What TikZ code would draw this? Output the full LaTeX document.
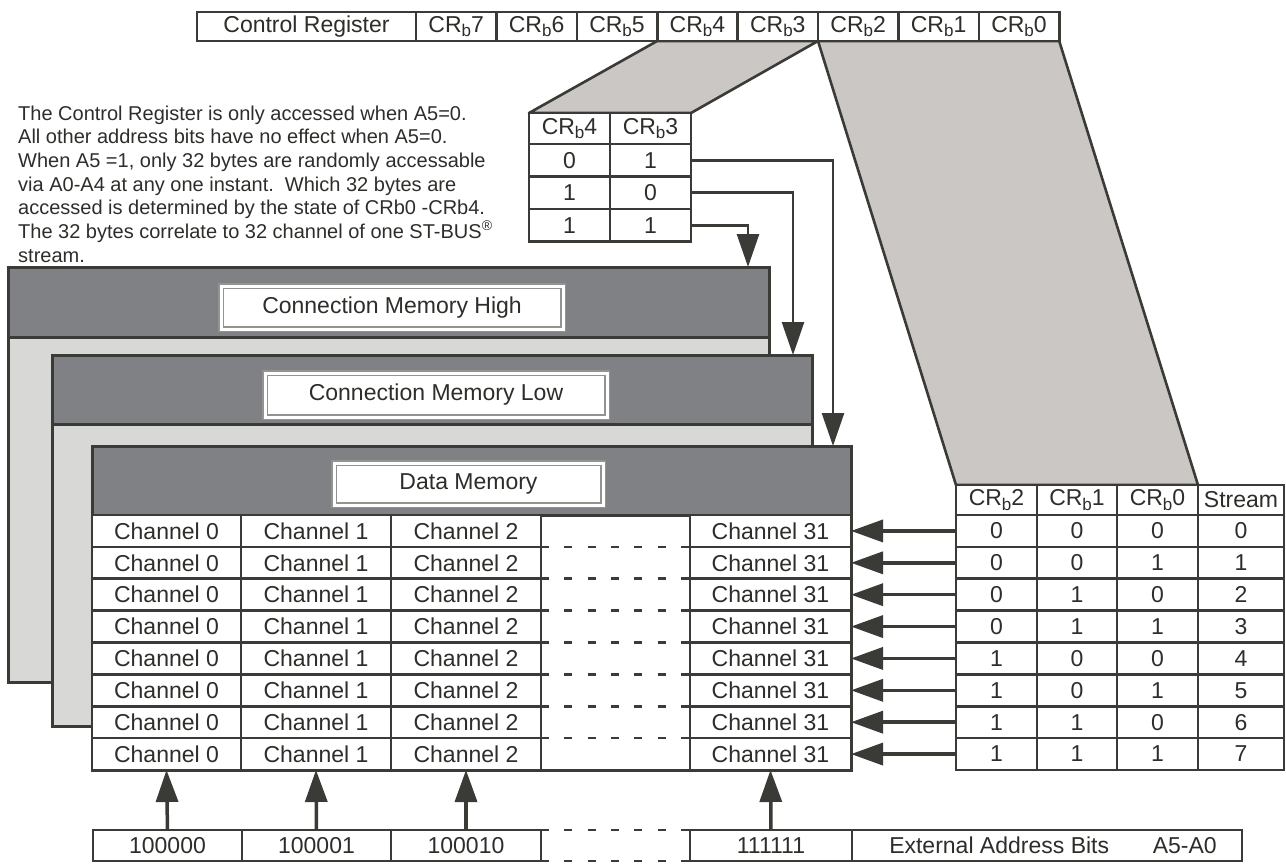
\documentclass[tikz,border=0pt]{standalone}
\usepackage{fontspec}
\setmainfont{Liberation Sans}
\usetikzlibrary{arrows.meta}
\pgfdeclarelayer{background}
\pgfsetlayers{background,main}
\definecolor{ln}{RGB}{58,58,54}
\definecolor{txt}{RGB}{45,45,42}
\definecolor{hdr}{RGB}{128,129,133}
\definecolor{body}{RGB}{216,216,214}
\definecolor{parafill}{RGB}{203,199,196}
\newcommand\crbit[1]{CR\raisebox{-0.4ex}{\fontsize{17}{17}\selectfont b}#1}
\begin{document}
\begin{tikzpicture}[x=1pt,y=-1pt,
  every node/.style={text=txt, font=\fontsize{23}{27}\selectfont},
  cell/.style={draw=ln, line width=2.6pt, fill=white, inner sep=0pt, outer sep=0pt},
  memline/.style={draw=ln, line width=3pt},
  lbl/.style={draw=ln!55, line width=1.2pt, double=white, double distance=3pt, fill=white, inner sep=0pt, outer sep=0pt},
  bigarr/.style={draw=ln, line width=3.5pt, -{Triangle[length=32pt,width=22pt]}},
  thinarr/.style={draw=ln, line width=2.6pt, -{Triangle[length=33pt,width=22pt]}},
  gapdash/.style={draw=ln, line width=2.6pt, dash pattern=on 8pt off 15.3pt},
  parallel/.style={fill=parafill, draw=ln, line width=2.6pt, line join=round},
  ptext/.style={anchor=base west, inner sep=0pt, font=\fontsize{20}{24}\selectfont}]
\useasboundingbox (0,0) rectangle (1286,863);

% ---------- explanatory text ----------
\node[ptext] (p1) at (18,120) {The Control Register is only accessed when A5=0.};
\node[ptext] (p2) at (18,143.7) {All other address bits have no effect when A5=0.};
\node[ptext] (p3) at (18,167.4) {When A5 =1, only 32 bytes are randomly accessable};
\node[ptext] (p4) at (18,191.1) {via A0-A4 at any one instant.\ \ Which 32 bytes are};
\node[ptext] (p5) at (18,214.8) {accessed is determined by the state of CRb0 -CRb4.};
\node[ptext] (p6) at (18,238.5) {The 32 bytes correlate to 32 channel of one ST-BUS\textsuperscript{®}};
\node[ptext] (p7) at (18,262.2) {stream.};

% ---------- control register ----------
\node[cell, minimum width=219pt, minimum height=29pt] (creg) at (306.5,26.5) {Control Register};
\foreach \b [count=\k from 0] in {7,6,5,4,3,2,1,0}
  \node[cell, minimum width=80.4pt, minimum height=29pt] (cr\b) at ({416+80.4*(\k+0.5)},26.5) {\crbit{\b}};

% ---------- CRb4/CRb3 table ----------
\node[cell, minimum width=81pt, minimum height=31pt] (t4) at (569.5,128.5) {\crbit{4}};
\node[cell, minimum width=81pt, minimum height=31pt] (t3) at (650.5,128.5) {\crbit{3}};
\foreach \a/\b [count=\r] in {0/1,1/0,1/1}{
  \node[cell, minimum width=81pt, minimum height=32.5pt] (ta\r) at (569.5,{144+32.5*(\r-0.5)}) {\a};
  \node[cell, minimum width=81pt, minimum height=32.5pt] (tb\r) at (650.5,{144+32.5*(\r-0.5)}) {\b};
}

% ---------- right table header ----------
\node[cell, minimum width=81pt, minimum height=30pt] (sh0) at (996.5,500) {\crbit{2}};
\node[cell, minimum width=80pt, minimum height=30pt] (sh1) at (1077,500) {\crbit{1}};
\node[cell, minimum width=81pt, minimum height=30pt] (sh2) at (1157.5,500) {\crbit{0}};
\node[cell, minimum width=86pt, minimum height=30pt] (sh3) at (1241,500) {Stream};

% ---------- parallelograms (behind the cells) ----------
\begin{pgfonlayer}{background}
\path[parallel] (cr4.south west) -- (cr3.south east) -- (t3.north east) -- (t4.north west) -- cycle;
\path[parallel] (cr3.south east) -- (cr0.south east) -- (sh2.north east) -- (sh0.north west) -- cycle;
\end{pgfonlayer}

% ---------- memory layers ----------
\draw[memline, fill=body] (8,267) rectangle (769,682);
\draw[memline, fill=hdr] (8,267) rectangle (769,337);
\node[lbl, minimum width=342pt, minimum height=43pt] (cmhl) at (392,307.5) {Connection Memory High};

\draw[memline, fill=body] (52,355) rectangle (812,726);
\draw[memline, fill=hdr] (52,355) rectangle (812,424);
\node[lbl, minimum width=342pt, minimum height=44pt] (cmll) at (436,395) {Connection Memory Low};

\draw[memline, fill=white] (92,446) rectangle (851,770);
\draw[memline, fill=hdr] (92,446) rectangle (851,515);
\node[lbl, minimum width=269pt, minimum height=42pt] (dml) at (468.5,484) {Data Memory};

\coordinate (in1) at (833,446);
\coordinate (in2) at (793,355);
\coordinate (in3) at (748,267);
\draw[thinarr] (tb1.east) -| (in1);
\draw[thinarr] (tb2.east) -| (in2);
\draw[thinarr] (tb3.east) -| (in3);

% ---------- channel rows and stream table ----------
\foreach \r in {0,...,7}{
  \pgfmathsetmacro\yc{515+31.875*(\r+0.5)}
  \node[cell, minimum width=149pt, minimum height=31.875pt] (c\r-0) at (166.5,\yc) {Channel 0};
  \node[cell, minimum width=150pt, minimum height=31.875pt] (c\r-1) at (316,\yc) {Channel 1};
  \node[cell, minimum width=150pt, minimum height=31.875pt] (c\r-2) at (466,\yc) {Channel 2};
  \node[cell, minimum width=161pt, minimum height=31.875pt] (c\r-31) at (770.5,\yc) {Channel 31};
  \draw[gapdash] (c\r-2.south east) -- (c\r-31.south west);
  \pgfmathtruncatemacro\bt{int(\r/4)}
  \pgfmathtruncatemacro\bo{mod(int(\r/2),2)}
  \pgfmathtruncatemacro\bz{mod(\r,2)}
  \node[cell, minimum width=81pt, minimum height=31.875pt] (s\r-0) at (996.5,\yc) {\bt};
  \node[cell, minimum width=80pt, minimum height=31.875pt] (s\r-1) at (1077,\yc) {\bo};
  \node[cell, minimum width=81pt, minimum height=31.875pt] (s\r-2) at (1157.5,\yc) {\bz};
  \node[cell, minimum width=86pt, minimum height=31.875pt] (s\r-3) at (1241,\yc) {\r};
  \draw[bigarr] (s\r-0.west) -- (c\r-31.east);
}

% ---------- address boxes ----------
\node[cell, minimum width=149pt, minimum height=31pt] (a0) at (167.5,845.5) {100000};
\node[cell, minimum width=149pt, minimum height=31pt] (a1) at (316.5,845.5) {100001};
\node[cell, minimum width=150pt, minimum height=31pt] (a2) at (466,845.5) {100010};
\node[cell, minimum width=162pt, minimum height=31pt] (a31) at (771,845.5) {111111};
\node[cell, minimum width=390pt, minimum height=31pt] (ext) at (1047,845.5) {\hspace{12pt}External Address Bits\hspace{1.9em}A5-A0};
\draw[gapdash] (a2.north east) -- (a31.north west);
\draw[gapdash] (a2.south east) -- (a31.south west);

\draw[bigarr] (a0.north) -- (c7-0.south);
\draw[bigarr] (a1.north) -- (c7-1.south);
\draw[bigarr] (a2.north) -- (c7-2.south);
\draw[bigarr] (a31.north) -- (c7-31.south);
\end{tikzpicture}
\end{document}
